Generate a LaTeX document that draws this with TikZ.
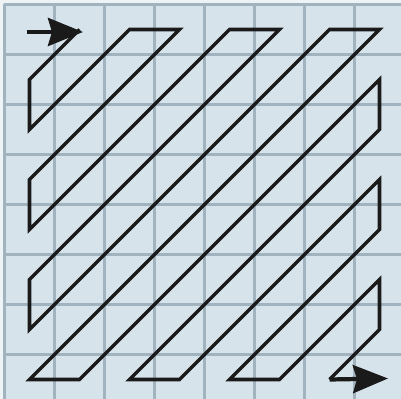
\documentclass[tikz,border=0pt]{standalone}
\usepackage{xcolor}
\usepackage{tikz}
\usetikzlibrary{arrows.meta}

\definecolor{cellfill}{RGB}{214,227,234}
\definecolor{gridline}{RGB}{160,179,191}
\definecolor{scanink}{RGB}{26,26,26}
\definecolor{paper}{RGB}{238,243,246}

\begin{document}
\begin{tikzpicture}[
      x=1cm, y=-1cm,
      blockfill/.style={fill=cellfill},
      gridlines/.style={draw=gridline, line width=1.3pt},
      scan/.style={draw=scanink, line width=2pt, line join=miter},
      arr/.style={draw=scanink, line width=2.4pt, -{Stealth[length=7mm, width=5.6mm, inset=0.8mm]}}
    ]
    \useasboundingbox[fill=paper] (-0.09,-0.09) rectangle (7.93,7.89);
    %% 8x8 block
    \path[blockfill] (0,0) rectangle (8,8);
    \draw[gridlines] (0,0) grid (8,8);
    %% cell centres (column, row)
    \foreach \c in {0,...,7}
      \foreach \r in {0,...,7}
        \coordinate (c\c\r) at (\c+0.5,\r+0.5);
    \coordinate (in)  at (0.45,0.55);
    \coordinate (tip) at (1.57,0.55);
    \coordinate (out) at (7.67,7.48);
    %% zig-zag scan
    \draw[arr] (in) -- (tip);
    \draw[scan] (c10) -- (c01) -- (c02) -- (c20) -- (c30) -- (c03) -- (c04)
      -- (c40) -- (c50) -- (c05) -- (c06) -- (c60) -- (c70) -- (c07) -- (c17)
      -- (c71) -- (c72) -- (c27) -- (c37) -- (c73) -- (c74) -- (c47) -- (c57)
      -- (c75) -- (c76) -- (c67);
    \draw[arr] (c67) -- (out);
  \end{tikzpicture}
\end{document}
